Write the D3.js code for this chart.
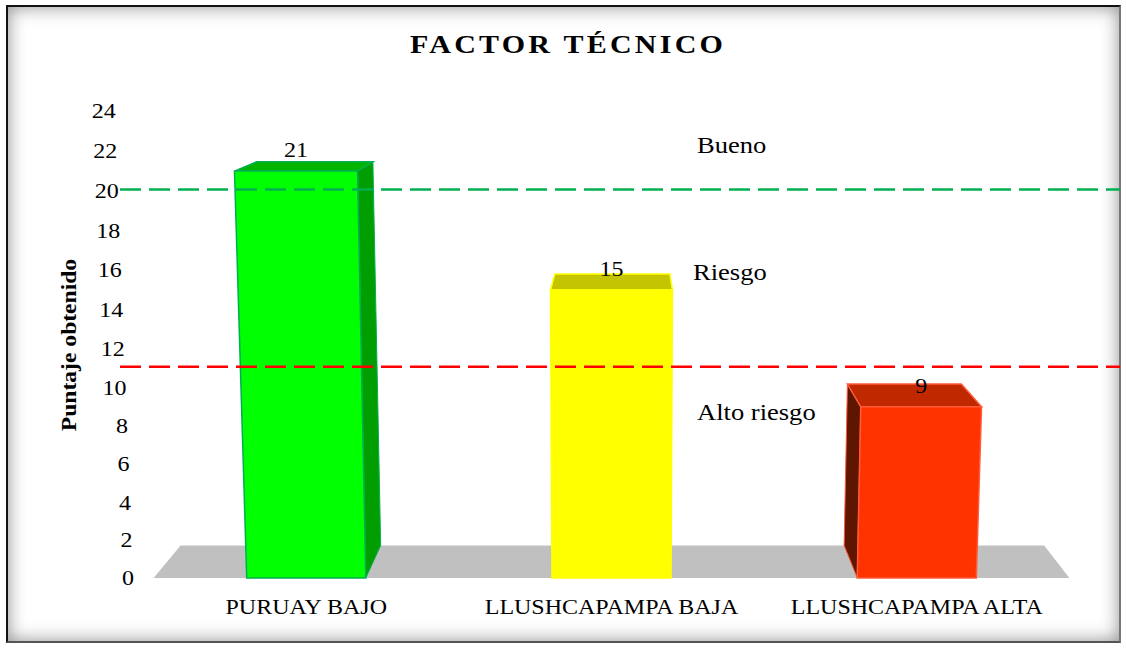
<!DOCTYPE html>
<html>
<head>
<meta charset="utf-8">
<script src="https://cdn.jsdelivr.net/npm/d3@7"></script>
<style>
    body { margin: 0; background: #fff; }
    #frame {
        position: absolute; left: 6px; top: 5px; width: 1111px; height: 634px;
        border: 2px solid #111; border-right-color: #777; border-bottom-color: #555;
        box-shadow: inset 0 0 18px rgba(0, 0, 0, 0.45);
    }
    svg { position: absolute; left: 0; top: 0; }
    text { font-family: "Liberation Serif", "Times New Roman", serif; fill: #000; }
</style>
</head>
<body>
<div id="frame"></div>
<svg id="chart" width="1126" height="648"></svg>
<script>
// Data
const categories = ["PURUAY BAJO", "LLUSHCAPAMPA BAJA", "LLUSHCAPAMPA ALTA"];
const values = [21, 15, 9];
const yTicks = [0, 2, 4, 6, 8, 10, 12, 14, 16, 18, 20, 22, 24];
const thresholds = [20, 11];
const zoneLabels = ["Bueno", "Riesgo", "Alto riesgo"];
const zoneLabelValues = [22.3, 15.9, 8.75];

// Styles
const frontColors = ["#00ff00", "#ffff00", "#ff3300"];
const topColors = ["#00b400", "#c4c400", "#c02800"];
const sideColors = ["#009e00", "#a0a000", "#5e1600"];
const edgeColors = ["#00b050", "#ffff00", "#ff5a3a"];
const thresholdColors = ["#00b050", "#ff0000"];

const svg = d3.select("#chart");
const textStretch = 1.2; // the reference text is drawn wide

// Perspective of the 3D plot
const centerX = 612, baseY = 578, persp = 8.5e-5;
const vp = [627, 7], depthK = 0.943;

function project(xf, hf, z) {
    const s = 1 + persp * hf;
    let x = centerX + (xf - centerX) * s;
    let y = baseY - hf * s;
    if (z) {
        const k = 1 - (1 - depthK) * z;
        x = vp[0] + (x - vp[0]) * k;
        y = vp[1] + (y - vp[1]) * k;
    }
    return [x, y];
}

const x = d3.scaleBand()
    .domain(categories)
    .range([153.6, 1069.4])
    .paddingInner(0.61)
    .paddingOuter(0.305);

const y = d3.scaleLinear().domain([0, 24]).range([0, 450]);

const line = d3.line();
const poly = pts => line(pts) + "Z";

function stretchedText(sel, px, py, sx) {
    return sel.attr("transform", `translate(${px},${py}) scale(${sx},1)`);
}

// Floor
const [fx0, fx1] = x.range();
svg.append("path")
    .attr("d", poly([project(fx0, 0, 0), project(fx1, 0, 0), project(fx1, 0, 1), project(fx0, 0, 1)]))
    .attr("fill", "#c0c0c0");

// Bars
const bars = svg.selectAll("g.bar")
    .data(categories.map((c, i) => ({ cat: c, value: values[i], i })))
    .join("g")
    .attr("class", "bar");

bars.each(function(d) {
    const g = d3.select(this);
    const x0 = x(d.cat), x1 = x(d.cat) + x.bandwidth();
    const h = y(d.value);
    const frontL = project(x0, 0, 0), frontR = project(x1, 0, 0);

    // side faces
    if (vp[0] > frontR[0]) {
        g.append("path")
            .attr("d", poly([project(x1, 0, 0), project(x1, h, 0), project(x1, h, 1), project(x1, 0, 1)]))
            .attr("fill", sideColors[d.i]).attr("stroke", edgeColors[d.i]).attr("stroke-width", 1);
    }
    if (vp[0] < frontL[0]) {
        g.append("path")
            .attr("d", poly([project(x0, 0, 0), project(x0, h, 0), project(x0, h, 1), project(x0, 0, 1)]))
            .attr("fill", sideColors[d.i]).attr("stroke", edgeColors[d.i]).attr("stroke-width", 1);
    }
    // top face
    g.append("path")
        .attr("d", poly([project(x0, h, 0), project(x1, h, 0), project(x1, h, 1), project(x0, h, 1)]))
        .attr("fill", topColors[d.i]).attr("stroke", edgeColors[d.i]).attr("stroke-width", 1.5);
    // front face
    g.append("path")
        .attr("d", poly([project(x0, 0, 0), project(x1, 0, 0), project(x1, h, 0), project(x0, h, 0)]))
        .attr("fill", frontColors[d.i]).attr("stroke", edgeColors[d.i]).attr("stroke-width", 1.5);

    // value label
    const tc = project(x0 + x.bandwidth() / 2, h, 0);
    stretchedText(g.append("text"), tc[0], tc[1] - 14, textStretch)
        .attr("text-anchor", "middle")
        .attr("font-size", 20)
        .text(d.value);
});

// Threshold dashed lines
svg.selectAll("line.threshold")
    .data(thresholds)
    .join("line")
    .attr("class", "threshold")
    .attr("x1", 120)
    .attr("x2", 1120)
    .attr("y1", d => project(0, y(d), 0)[1] - 1.5)
    .attr("y2", d => project(0, y(d), 0)[1] - 1.5)
    .attr("stroke", (d, i) => thresholdColors[i])
    .attr("stroke-width", 2.5)
    .attr("stroke-dasharray", "21 8");

// Zone labels
zoneLabels.forEach((t, i) => {
    const py = project(0, y(zoneLabelValues[i]), 0)[1];
    stretchedText(svg.append("text"), i === 1 ? 693 : 697, py, 1.18)
        .attr("font-size", 22.5)
        .attr("dy", "0.35em")
        .text(t);
});

// Y tick labels (follow the perspective of the axis)
yTicks.forEach(v => {
    const p = project(134, y(v), 0);
    stretchedText(svg.append("text"), p[0], p[1], textStretch)
        .attr("text-anchor", "end")
        .attr("dy", "0.35em")
        .attr("font-size", 20)
        .text(v);
});

// X category labels
categories.forEach(c => {
    const p = project(x(c) + x.bandwidth() / 2, 0, 0);
    stretchedText(svg.append("text"), p[0], 614, textStretch)
        .attr("text-anchor", "middle")
        .attr("font-size", 20)
        .text(c);
});

// Y axis title
svg.append("text")
    .attr("transform", `translate(76,345) rotate(-90) scale(1.18,1)`)
    .attr("text-anchor", "middle")
    .attr("font-size", 20)
    .attr("font-weight", "bold")
    .text("Puntaje obtenido");

// Title
stretchedText(svg.append("text"), 568, 53, textStretch)
    .attr("text-anchor", "middle")
    .attr("font-size", 25)
    .attr("font-weight", "bold")
    .attr("letter-spacing", 2.7)
    .text("FACTOR TÉCNICO");
</script>
</body>
</html>
